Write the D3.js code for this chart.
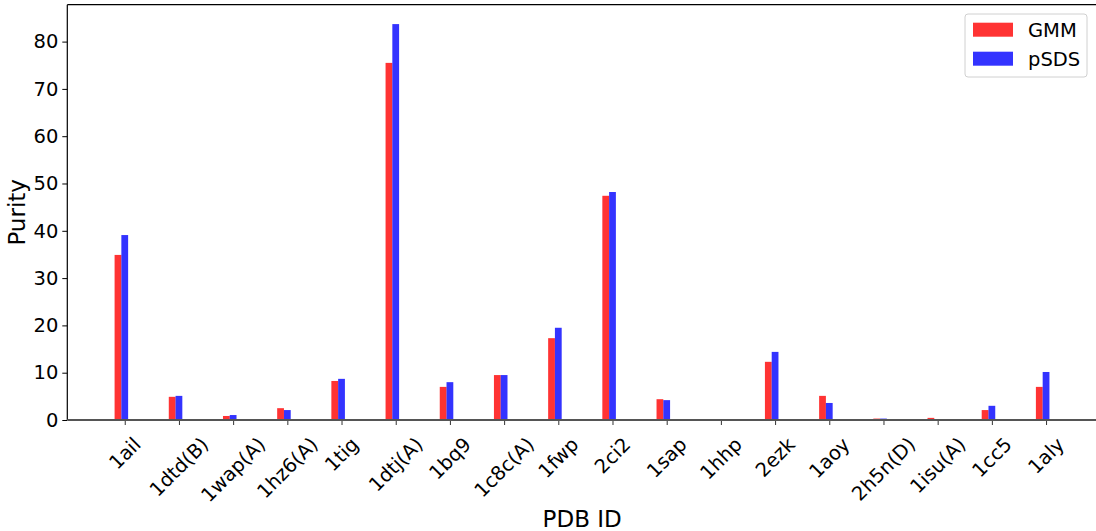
<!DOCTYPE html>
<html>
<head>
<meta charset="utf-8">
<script src="https://cdn.jsdelivr.net/npm/d3@7"></script>
<style>
  body { margin: 0; background: #fff; }
  svg { display: block; font-family: "DejaVu Sans", sans-serif; }
</style>
</head>
<body>
<div id="chart"></div>
<script>
const pdbIds = ['1ail', '1dtd(B)', '1wap(A)', '1hz6(A)', '1tig', '1dtj(A)', '1bq9', '1c8c(A)', '1fwp',
  '2ci2', '1sap', '1hhp', '2ezk', '1aoy', '2h5n(D)', '1isu(A)', '1cc5', '1aly'];
const gmmValues = [34.9, 4.9, 0.85, 2.5, 8.25, 75.5, 7.0, 9.5, 17.3, 47.4, 4.4, 0.1, 12.3, 5.1, 0.3, 0.45, 2.1, 7.0];
const psdsValues = [39.1, 5.1, 1.05, 2.1, 8.7, 83.7, 8.0, 9.5, 19.5, 48.2, 4.2, 0.1, 14.4, 3.6, 0.3, 0.1, 3.0, 10.15];
const yTicks = [0, 10, 20, 30, 40, 50, 60, 70, 80];
const seriesNames = ['GMM', 'pSDS'];

const width = 1096;
const height = 531;
const margin = { left: 67.3, top: 4.7, right: 1097, bottom: 420 };
const tickFont = 19.5;
const labelFont = 23;
const barWidth = 0.125;

const colors = {
  GMM: 'rgba(255, 0, 0, 0.8)',
  pSDS: 'rgba(0, 0, 255, 0.8)'
};

const svg = d3.select('#chart')
  .append('svg')
  .attr('width', width)
  .attr('height', height);

const x = d3.scaleLinear()
  .domain([-1.06, 17.94])
  .range([margin.left, margin.right]);

const y = d3.scaleLinear()
  .domain([0, 87.8])
  .range([margin.bottom, margin.top]);

// bars: GMM to the left of the tick, pSDS centred on it
const series = [
  { name: 'GMM', values: gmmValues, offset: -barWidth },
  { name: 'pSDS', values: psdsValues, offset: 0 }
];

series.forEach(s => {
  svg.append('g')
    .selectAll('rect')
    .data(s.values)
    .join('rect')
    .attr('x', (d, i) => x(i + s.offset - barWidth / 2))
    .attr('width', x(barWidth) - x(0))
    .attr('y', d => y(d))
    .attr('height', d => y(0) - y(d))
    .attr('fill', colors[s.name]);
});

// y axis
const yAxis = d3.axisLeft(y)
  .tickValues(yTicks)
  .tickSize(5)
  .tickPadding(4)
  .tickSizeOuter(0);

svg.append('g')
  .attr('transform', `translate(${margin.left},0)`)
  .call(yAxis)
  .call(g => g.select('.domain').remove())
  .call(g => g.selectAll('.tick line').attr('stroke', '#000').attr('stroke-width', 1))
  .call(g => g.selectAll('.tick text')
    .attr('fill', '#000')
    .style('font-size', tickFont + 'px')
    .style('font-family', '"DejaVu Sans", sans-serif'));

// x axis ticks
const xAxis = d3.axisBottom(x)
  .tickValues(d3.range(pdbIds.length))
  .tickSize(5)
  .tickFormat('')
  .tickSizeOuter(0);

svg.append('g')
  .attr('transform', `translate(0,${margin.bottom})`)
  .call(xAxis)
  .call(g => g.select('.domain').remove())
  .call(g => g.selectAll('.tick line').attr('stroke', '#333').attr('stroke-width', 1));

// rotated tick labels, centred on the tick like matplotlib's ha='center'
const labelTop = 434;
svg.append('g')
  .selectAll('text')
  .data(pdbIds)
  .join('text')
  .attr('text-anchor', 'middle')
  .attr('dy', '0.35em')
  .style('font-size', tickFont + 'px')
  .attr('fill', '#000')
  .text(d => d)
  .each(function (d, i) {
    const w = this.getComputedTextLength();
    const h = tickFont;
    const rotH = (w + h) * Math.SQRT1_2;
    d3.select(this).attr('transform',
      `translate(${x(i)},${labelTop + rotH / 2}) rotate(-45)`);
  });

// spines
svg.append('line')
  .attr('x1', margin.left).attr('x2', width)
  .attr('y1', margin.top).attr('y2', margin.top)
  .attr('stroke', '#000').attr('stroke-width', 1.2);
svg.append('line')
  .attr('x1', margin.left).attr('x2', margin.left)
  .attr('y1', margin.top).attr('y2', margin.bottom)
  .attr('stroke', '#000').attr('stroke-width', 1.2);
svg.append('line')
  .attr('x1', margin.left).attr('x2', width)
  .attr('y1', margin.bottom).attr('y2', margin.bottom)
  .attr('stroke', '#555').attr('stroke-width', 1.8);

// axis titles
svg.append('text')
  .attr('x', (margin.left + margin.right) / 2)
  .attr('y', 527)
  .attr('text-anchor', 'middle')
  .style('font-size', labelFont + 'px')
  .text('PDB ID');

svg.append('text')
  .attr('transform', `translate(25,${(margin.top + margin.bottom) / 2}) rotate(-90)`)
  .attr('text-anchor', 'middle')
  .style('font-size', labelFont + 'px')
  .text('Purity');

// legend
const legend = svg.append('g').attr('transform', 'translate(965,14)');
legend.append('rect')
  .attr('width', 122).attr('height', 63)
  .attr('rx', 3)
  .attr('fill', 'rgba(255,255,255,0.8)')
  .attr('stroke', '#d0d0d0');

const legendItems = legend.selectAll('g')
  .data(seriesNames)
  .join('g')
  .attr('transform', (d, i) => `translate(8,${8.7 + i * 29})`);

legendItems.append('rect')
  .attr('width', 40).attr('height', 14)
  .attr('fill', d => colors[d]);

legendItems.append('text')
  .attr('x', 55)
  .attr('y', 7)
  .attr('dy', '0.35em')
  .style('font-size', tickFont + 'px')
  .text(d => d);
</script>
</body>
</html>
